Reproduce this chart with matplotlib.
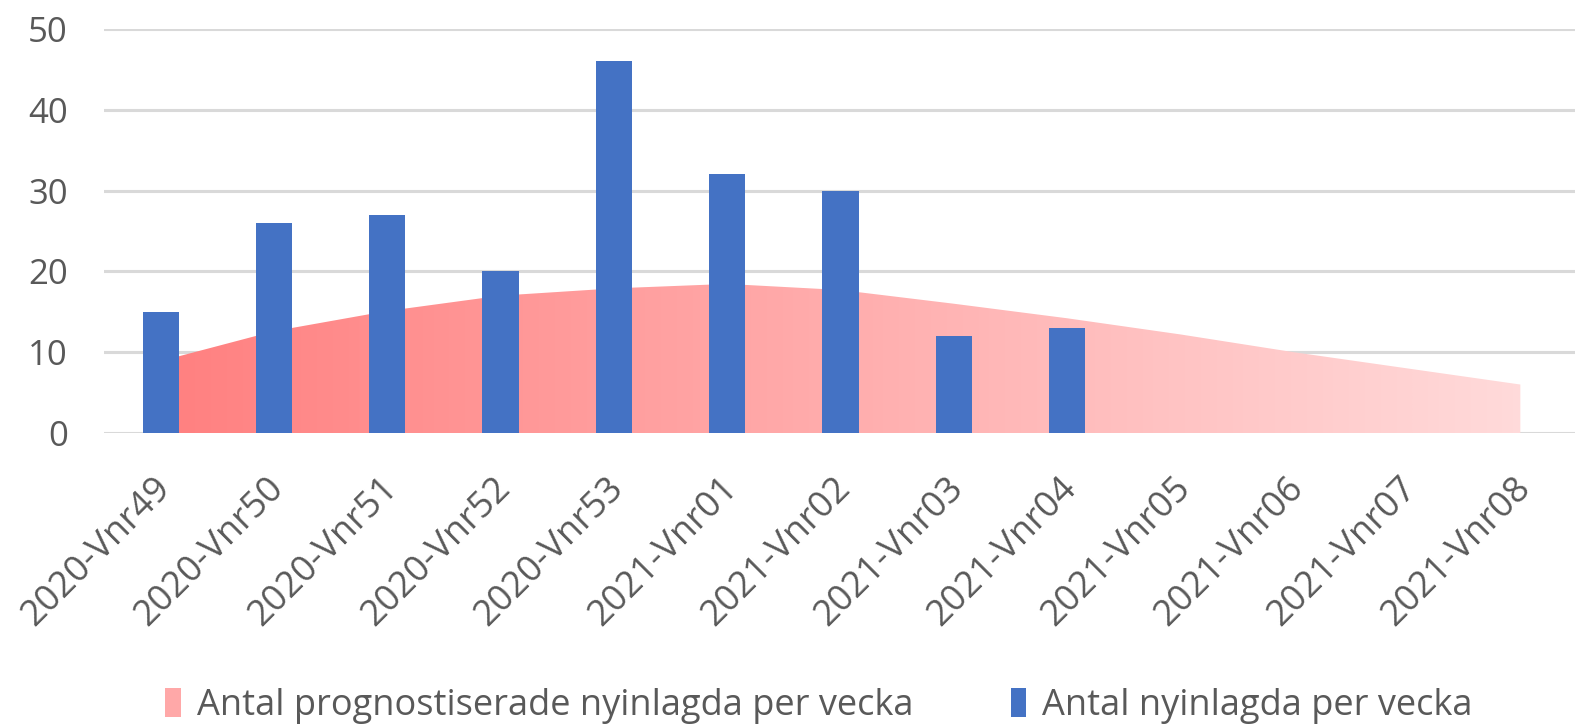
import numpy as np
import matplotlib
matplotlib.use("Agg")
import matplotlib.pyplot as plt
from matplotlib import font_manager
from matplotlib.patches import Patch
from matplotlib.colors import LinearSegmentedColormap
from matplotlib.transforms import ScaledTranslation

categories = ["2020-Vnr49", "2020-Vnr50", "2020-Vnr51", "2020-Vnr52", "2020-Vnr53",
              "2021-Vnr01", "2021-Vnr02", "2021-Vnr03", "2021-Vnr04", "2021-Vnr05",
              "2021-Vnr06", "2021-Vnr07", "2021-Vnr08"]
forecast = [8.9, 12.6, 15.1, 17.0, 17.9, 18.45, 17.7, 16.0, 14.2, 12.2, 10.0, 8.0, 6.0]
admitted = [15, 26, 27, 20, 46, 32, 30, 12, 13]
yticks = [0, 10, 20, 30, 40, 50]
label_forecast = "Antal prognostiserade nyinlagda per vecka"
label_admitted = "Antal nyinlagda per vecka"

avail = {f.name for f in font_manager.fontManager.ttflist}
fam = next((f for f in ["Open Sans", "DejaVu Sans"] if f in avail), "DejaVu Sans")
plt.rcParams['font.family'] = [fam, 'DejaVu Sans']

TXT = "#595959"
GRID = "#D9D9D9"
BLUE = "#4472C4"

fig = plt.figure(figsize=(15.75, 7.26), dpi=100)
ax = fig.add_axes([104/1575, 1 - 433/726, (1577 - 104)/1575, 404/726])

x = np.arange(len(categories))
xf = x[:len(forecast)]

# gradient area
poly = ax.fill_between(xf, 0, forecast, color="none", linewidth=0)
cmap = LinearSegmentedColormap.from_list("g", ["#FF8080", "#FFDADA"])
grad = np.linspace(0, 1, 256).reshape(1, -1)
im = ax.imshow(grad, cmap=cmap, aspect="auto", extent=[xf[0], xf[-1], 0, max(forecast)],
               zorder=1, interpolation="bilinear")
im.set_clip_path(poly.get_paths()[0], transform=ax.transData)

ax.bar(x[:len(admitted)], admitted, width=0.32, color=BLUE, zorder=2)

ax.set_xlim(-0.5, 12.5)
ax.set_ylim(0, 50)
ax.set_yticks(yticks)
ax.yaxis.grid(True, color=GRID, linewidth=2.2, zorder=0)
ax.set_axisbelow(True)
for s in ax.spines.values():
    s.set_visible(False)
ax.tick_params(axis="y", length=0, colors=TXT, labelsize=25, pad=26)
ax.set_xticks(x)
ax.set_xticklabels(categories, rotation=45, ha="right", va="top", rotation_mode="anchor")
ax.tick_params(axis="x", length=0, colors=TXT, labelsize=26, pad=17)
shift = ScaledTranslation(-8/100, -14/100, fig.dpi_scale_trans)
for lbl in ax.get_xticklabels():
    lbl.set_transform(lbl.get_transform() + shift)

handles = [Patch(facecolor="#FFA8A8", edgecolor="none"), Patch(facecolor=BLUE, edgecolor="none")]
fig.legend(handles, [label_forecast, label_admitted], loc="center", bbox_to_anchor=(0.52, 1 - 706/726),
           ncol=2, frameon=False, fontsize=26, labelcolor=TXT, handlelength=0.42, handleheight=0.85,
           handletextpad=0.45, columnspacing=2.7)

fig.savefig("out.png", dpi=100)
